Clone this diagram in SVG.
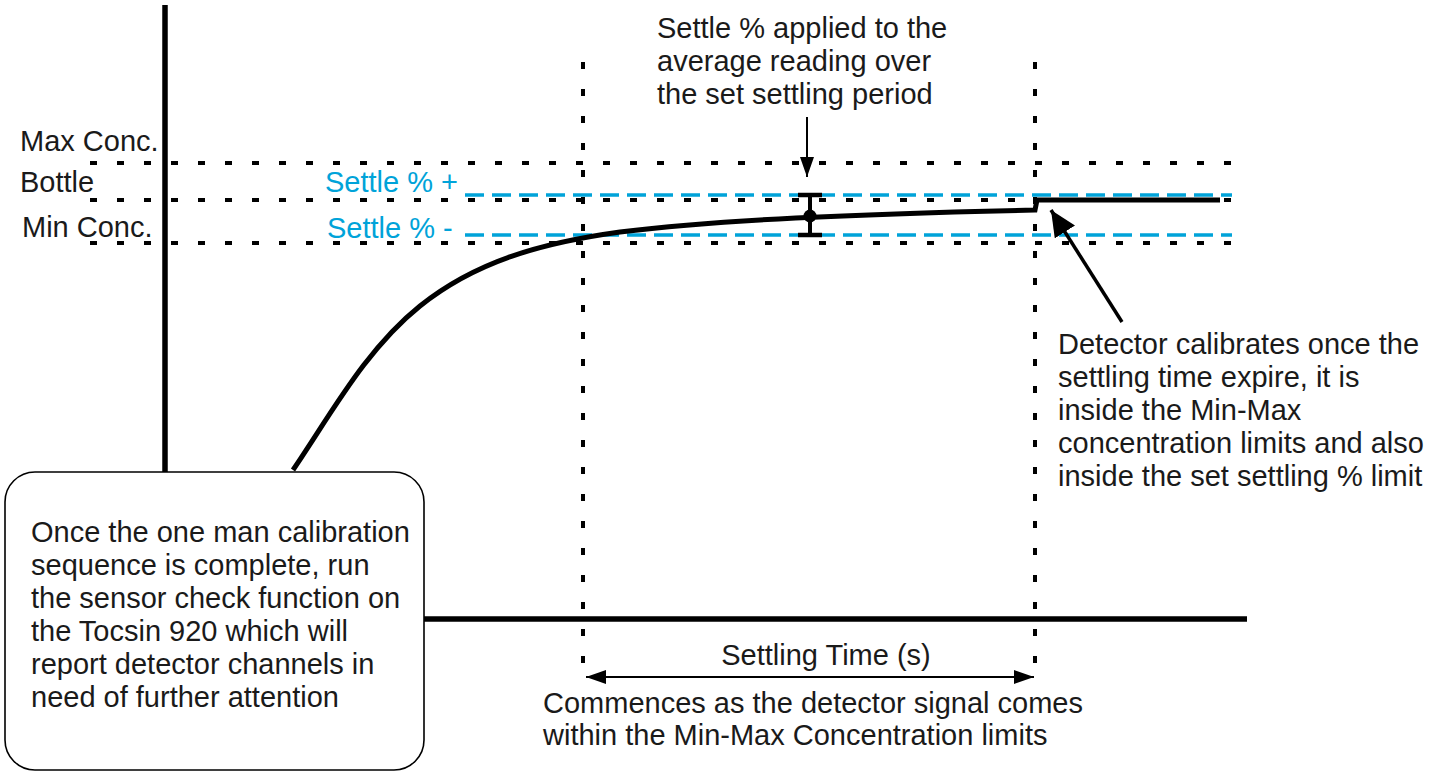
<svg xmlns="http://www.w3.org/2000/svg" width="1445" height="772" viewBox="0 0 1445 772">
<defs>
<style>
text{font-family:"Liberation Sans",Arial,sans-serif;font-size:29px;fill:#1a1a1a}
.blue{fill:#00a3d9}
.dot{stroke:#000;stroke-width:4;stroke-dasharray:7 20;fill:none}
.bdash{stroke:#00a3d9;stroke-width:3.5;stroke-dasharray:19 8;fill:none}
.axis{stroke:#000;stroke-width:5.5;fill:none}
.thin{stroke:#000;stroke-width:2;fill:none}
</style>
<marker id="ah" viewBox="0 0 20 14" refX="20" refY="7" markerWidth="20" markerHeight="14" markerUnits="userSpaceOnUse" orient="auto-start-reverse">
<path d="M0,0 L20,7 L0,14 Z" fill="#000"/>
</marker>
<marker id="ahBig" viewBox="0 0 26 24" refX="26" refY="12" markerWidth="26" markerHeight="24" markerUnits="userSpaceOnUse" orient="auto">
<path d="M0,0 L26,12 L0,24 Z" fill="#000"/>
</marker>
</defs>
<g id="axes">
<line class="axis" x1="165" y1="5" x2="165" y2="480"/>
<line class="axis" x1="400" y1="619" x2="1247" y2="619"/>
</g>
<g id="guides">
<line class="dot" x1="90" y1="163" x2="1237" y2="163"/>
<line class="dot" x1="90" y1="200" x2="1237" y2="200"/>
<line class="dot" x1="90" y1="243" x2="1237" y2="243"/>
<line class="dot" x1="583" y1="62" x2="583" y2="672"/>
<line class="dot" x1="1035" y1="62" x2="1035" y2="672"/>
<line class="bdash" x1="465" y1="195" x2="1232" y2="195"/>
<line class="bdash" x1="465" y1="235" x2="1232" y2="235"/>
</g>
<g id="signal">
<path d="M293,470 C330,416 365,350 420,306 S540,243 620,232 C720,220 850,214 1035,210 L1037,200 L1220,200" stroke="#000" stroke-width="5" fill="none" stroke-linejoin="miter"/>
</g>
<g id="errorbar">
<line x1="810" y1="195" x2="810" y2="235" stroke="#000" stroke-width="4"/>
<line x1="798" y1="195" x2="822" y2="195" stroke="#000" stroke-width="4.5"/>
<line x1="798" y1="235" x2="822" y2="235" stroke="#000" stroke-width="4.5"/>
<circle cx="810" cy="216" r="6.5" fill="#000"/>
</g>
<g id="connectors">
<line class="thin" x1="807" y1="117" x2="807" y2="177" marker-end="url(#ah)"/>
<line x1="1122" y1="322" x2="1051" y2="210" stroke="#000" stroke-width="3.5" marker-end="url(#ahBig)"/>
<line class="thin" x1="586" y1="677" x2="1034" y2="677" marker-start="url(#ah)" marker-end="url(#ah)"/>
</g>
<g id="labels">
<text x="20" y="151">Max Conc.</text>
<text x="20" y="192">Bottle</text>
<text x="22" y="237">Min Conc.</text>
<text class="blue" x="325" y="192">Settle % +</text>
<text class="blue" x="327" y="238">Settle % -</text>
</g>
<g id="note-settle">
<text x="657" y="38">Settle % applied to the</text>
<text x="657" y="71">average reading over</text>
<text x="657" y="104">the set settling period</text>
</g>
<g id="note-calibrate">
<text x="1058" y="354">Detector calibrates once the</text>
<text x="1058" y="387">settling time expire, it is</text>
<text x="1058" y="420">inside the Min-Max</text>
<text x="1058" y="453">concentration limits and also</text>
<text x="1058" y="486">inside the set settling % limit</text>
</g>
<g id="note-time">
<text x="826" y="665" text-anchor="middle">Settling Time (s)</text>
<text x="543" y="713">Commences as the detector signal comes</text>
<text x="543" y="745">within the Min-Max Concentration limits</text>
</g>
<g id="box">
<rect x="5" y="472" width="419" height="298" rx="30" ry="30" fill="#fff" stroke="#000" stroke-width="1.6"/>
<text x="31" y="542">Once the one man calibration</text>
<text x="31" y="575">sequence is complete, run</text>
<text x="31" y="608">the sensor check function on</text>
<text x="31" y="641">the Tocsin 920 which will</text>
<text x="31" y="674">report detector channels in</text>
<text x="31" y="707">need of further attention</text>
</g>
</svg>
